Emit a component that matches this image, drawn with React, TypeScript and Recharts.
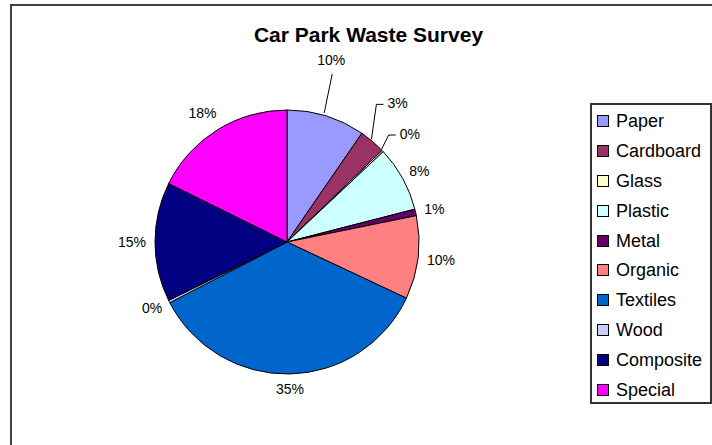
import React from 'react';
import { PieChart, Pie, Cell, Legend } from 'recharts';

const categories = ['Paper', 'Cardboard', 'Glass', 'Plastic', 'Metal', 'Organic', 'Textiles', 'Wood', 'Composite', 'Special'];
const shares = [9.6, 3.2, 0.2, 8.0, 0.8, 10.2, 35.4, 0.3, 14.6, 17.7];
const colors = ['#9999FF', '#993366', '#FFFFCC', '#CCFFFF', '#660066', '#FF8080', '#0066CC', '#CCCCFF', '#000080', '#FF00FF'];

const data = categories.map((name, i) => ({ name, value: shares[i] }));

const FONT = '"Liberation Sans", Arial, Helvetica, sans-serif';
const RAD = Math.PI / 180;
const LABEL_SIZE = 14;

// callout styles for crowded slices (offsets relative to slice edge point)
const callouts: Record<number, { kind: 'straight' | 'elbow'; dx: number; dy: number }> = {
  0: { kind: 'straight', dx: 5, dy: -56 },
  1: { kind: 'elbow', dx: 4, dy: -37 },
  2: { kind: 'elbow', dx: 6, dy: -16 },
};

const renderLabel = (props: any) => {
  const { cx, cy, midAngle, outerRadius, index, value } = props;
  const text = `${Math.round(value)}%`;
  const ux = Math.cos(-midAngle * RAD);
  const uy = Math.sin(-midAngle * RAD);
  const px = cx + outerRadius * ux;
  const py = cy + outerRadius * uy;
  const c = callouts[index];
  const common = { fontFamily: FONT, fontSize: LABEL_SIZE, fill: '#000' };
  if (c && c.kind === 'straight') {
    const lx = px + c.dx;
    const ly = py + c.dy;
    return (
      <g key={`l${index}`}>
        <path d={`M${px - 2},${py - 3}L${lx + 1},${ly + 14}`} stroke="#000" strokeWidth={1} fill="none" />
        <text x={lx} y={ly} textAnchor="middle" dominantBaseline="central" {...common}>{text}</text>
      </g>
    );
  }
  if (c && c.kind === 'elbow') {
    const ex = px + c.dx;
    const ey = py + c.dy;
    return (
      <g key={`l${index}`}>
        <path d={`M${px - 1},${py - 2}L${ex},${ey}L${ex + 7},${ey}`} stroke="#000" strokeWidth={1} fill="none" />
        <text x={ex + 11} y={ey - 1} textAnchor="start" dominantBaseline="central" {...common}>{text}</text>
      </g>
    );
  }
  const digits = text.length - 1;
  const w = (digits * 0.556 + 0.889) * LABEL_SIZE;
  const gap = 9 + (uy < -0.5 && ux < 0 ? 5 : 0);
  const lx = cx + (outerRadius + gap) * ux + (w / 2) * ux;
  const ly = cy + (outerRadius + gap) * uy + 6 * uy;
  return (
    <text key={`l${index}`} x={lx} y={ly} textAnchor="middle" dominantBaseline="central" {...common}>{text}</text>
  );
};

const renderLegend = (props: any) => {
  const payload = [...(props.payload || [])].sort(
    (a: any, b: any) => categories.indexOf(a.value) - categories.indexOf(b.value)
  );
  return (
    <div
      style={{
        boxSizing: 'border-box',
        width: 122,
        height: 301,
        border: '2px solid #333',
        background: '#fff',
        paddingTop: 1,
        fontFamily: FONT,
      }}
    >
      {payload.map((entry: any, i: number) => (
        <div key={i} style={{ height: 29.9, display: 'flex', alignItems: 'center', paddingLeft: 5 }}>
          <span
            style={{
              display: 'inline-block',
              boxSizing: 'border-box',
              width: 12,
              height: 12,
              background: entry.color,
              border: '1px solid #000',
              marginRight: 7,
            }}
          />
          <span style={{ fontSize: 18, color: '#000', whiteSpace: 'nowrap', lineHeight: '18px' }}>{entry.value}</span>
        </div>
      ))}
    </div>
  );
};

export default function App() {
  return (
    <div style={{ position: 'absolute', left: 0, top: 0, width: 712, height: 445, background: '#fff', overflow: 'hidden' }}>
      <div
        style={{
          position: 'absolute',
          left: 10,
          top: 4,
          width: 800,
          height: 600,
          borderLeft: '2px solid #404040',
          borderTop: '2px solid #404040',
        }}
      />
      <div
        style={{
          position: 'absolute',
          left: 0,
          width: 737,
          top: 24,
          textAlign: 'center',
          fontFamily: FONT,
          fontSize: 21,
          fontWeight: 'bold',
          lineHeight: '21px',
          color: '#000',
        }}
      >
        Car Park Waste Survey
      </div>
      <div style={{ position: 'absolute', left: 0, top: 0 }}>
        <PieChart width={712} height={445} margin={{ top: 0, right: 0, bottom: 0, left: 0 }}>
          <Pie
            data={data}
            dataKey="value"
            nameKey="name"
            cx={287}
            cy={242}
            outerRadius={132}
            startAngle={90}
            endAngle={-270}
            stroke="#000"
            strokeWidth={1}
            label={renderLabel}
            labelLine={false}
            isAnimationActive={false}
          >
            {data.map((d, i) => (
              <Cell key={d.name} fill={colors[i]} />
            ))}
          </Pie>
          <Legend
            layout="vertical"
            align="right"
            verticalAlign="middle"
            content={renderLegend}
            wrapperStyle={{ position: 'absolute', left: 590, top: 103, width: 122, height: 301, right: 'auto', bottom: 'auto' }}
          />
        </PieChart>
      </div>
    </div>
  );
}
